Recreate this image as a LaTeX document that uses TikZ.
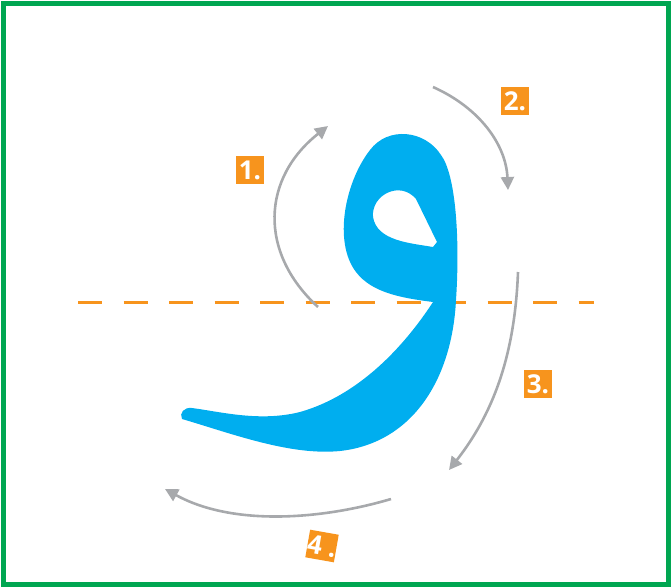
\documentclass[tikz,border=0pt]{standalone}
\usepackage{fontspec}
\setmainfont{Open Sans}
\usepackage{xcolor}
\usepackage{tikz}
\usetikzlibrary{arrows.meta}

\definecolor{framegreen}{HTML}{00A651}
\definecolor{waterblue}{HTML}{00AEEF}
\definecolor{steporange}{HTML}{F7941D}
\definecolor{arrowgray}{HTML}{A7A9AC}

\tikzset{
  tag/.style={fill=steporange, text=white, minimum size=28pt, inner sep=0pt,
    font=\fontsize{26}{26}\selectfont\bfseries},
  guide/.style={draw=arrowgray, line width=2.6pt,
    -{Triangle[length=13pt,width=13pt]}}
}

\begin{document}
\begin{tikzpicture}[x=1pt, y=-1pt]
   			\useasboundingbox (0,0) rectangle (671,587);
   			\draw[framegreen, line width=5pt] (3,3) rectangle (668,584);
   			
   			% baseline
   			\coordinate (L) at (78,302);
   			\coordinate (R) at (594,302);
   			\draw[steporange, line width=3pt, dash pattern=on 24pt off 21.5pt] (L) -- (R);
   			
   			% the letter
   			\fill[waterblue, even odd rule]
   				(433,302)
   				.. controls (405,345) and (360,395) .. (300,412)
   				.. controls (260,422) and (222,412) .. (192,408)
   				.. controls (184,407) and (179,413) .. (182,419)
   				.. controls (230,433) and (290,456) .. (340,451)
   				.. controls (412,443) and (452,380) .. (456,300)
   				.. controls (460,240) and (456,175) .. (441,155)
   				.. controls (425,130) and (388,126) .. (370,150)
   				.. controls (345,182) and (333,242) .. (356,272)
   				.. controls (372,293) and (402,298) .. (433,302) -- cycle
   				(373,217)
   				.. controls (371,195) and (400,180) .. (416,199)
   				-- (437,242) -- (433,247)
   				.. controls (410,243) and (377,241) .. (373,217) -- cycle;
   			
   			% stroke order
   			\coordinate (s1) at (318,307);
   			\coordinate (e1) at (328,126);
   			\coordinate (s2) at (433,87);
   			\coordinate (e2) at (508,190);
   			\coordinate (s3) at (518,272);
   			\coordinate (e3) at (449,470);
   			\coordinate (s4) at (391,499);
   			\coordinate (e4) at (165,489);
   			\draw[guide] (s1) .. controls (258,252) and (262,178) .. (e1);
   			\draw[guide] (s2) .. controls (480,108) and (506,145) .. (e2);
   			\draw[guide] (s3) .. controls (515,350) and (496,410) .. (e3);
   			\draw[guide] (s4) .. controls (320,520) and (232,526) .. (e4);
   			
   			\foreach \x/\y/\r/\n in {
   				250/170/0/1,
   				515/101/0/2,
   				538/384/0/3,
   				322/546/-10/4
   			}{
   				\node[tag, rotate=\r] (t\n) at (\x,\y) {\n.};
   			}
   		\end{tikzpicture}
\end{document}
